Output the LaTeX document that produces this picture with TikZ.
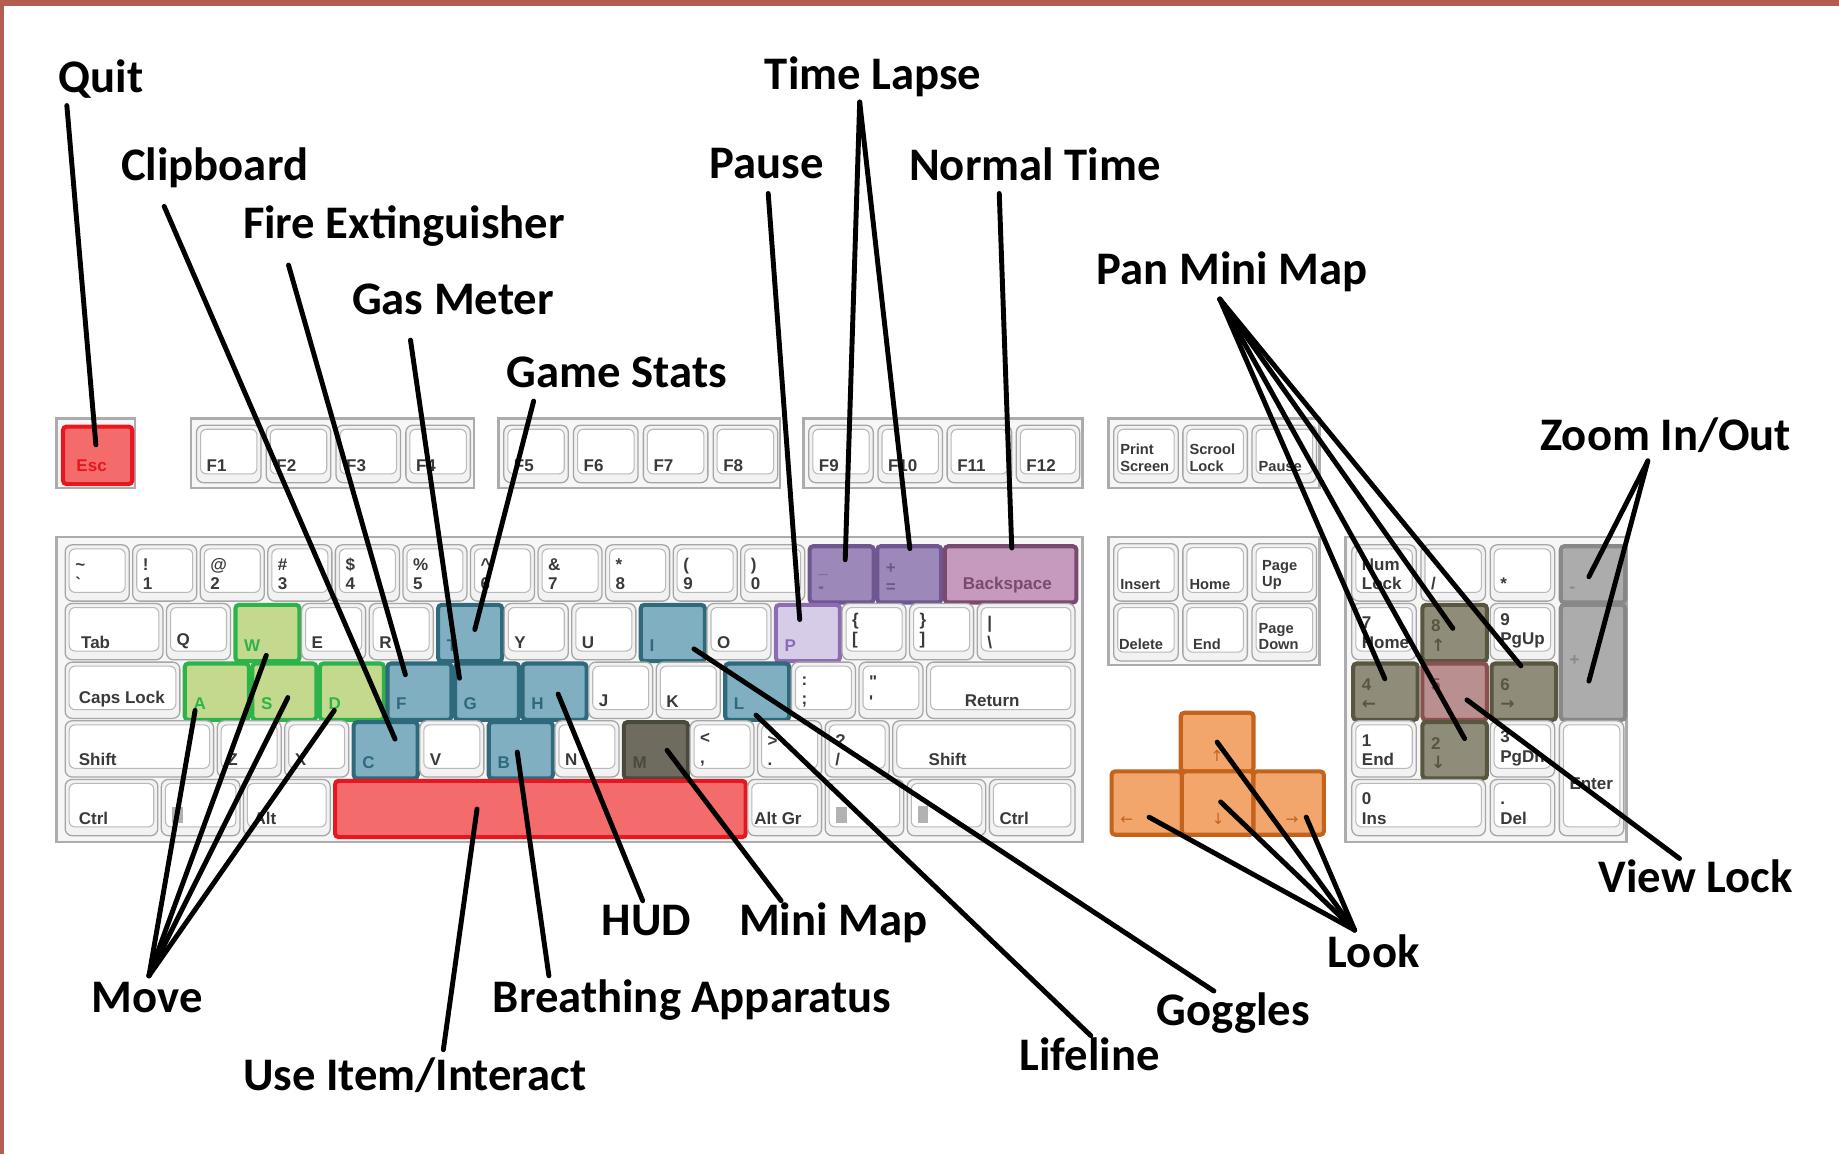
\documentclass[tikz,border=0pt]{standalone}
\usepackage{fontspec}
\setmainfont{Carlito}
\newfontfamily\kfont{Liberation Sans}
\newfontfamily\afont{DejaVu Sans}
\usetikzlibrary{calc}
\definecolor{frameC}{HTML}{B35E50}
\definecolor{redF}{HTML}{F46B6B}\definecolor{redB}{HTML}{E8161E}
\definecolor{grnF}{HTML}{C3DA8E}\definecolor{grnB}{HTML}{2DB34A}
\definecolor{tlF}{HTML}{7FAFC1}\definecolor{tlB}{HTML}{2F6A7C}
\definecolor{puF}{HTML}{9D89B9}\definecolor{puB}{HTML}{6E5690}
\definecolor{lvF}{HTML}{D7CCE7}\definecolor{lvB}{HTML}{8D6CB2}
\definecolor{bsF}{HTML}{C69ABE}\definecolor{bsB}{HTML}{7A4A6E}
\definecolor{mF}{HTML}{6F6B5E}\definecolor{mB}{HTML}{4A493D}
\definecolor{olF}{HTML}{8F8C79}\definecolor{olB}{HTML}{59563F}
\definecolor{pkF}{HTML}{BA8F8F}\definecolor{pkB}{HTML}{8A4F4F}
\definecolor{gyF}{HTML}{ACACAC}\definecolor{gyB}{HTML}{888888}
\definecolor{orF}{HTML}{F3A66C}\definecolor{orB}{HTML}{C4631B}
\definecolor{ktC}{HTML}{3A3A3A}
\tikzset{
  conn/.style={line width=4.2pt, black, line cap=round},
  lbl/.style={font=\bfseries\fontsize{39.8}{42}\selectfont, inner sep=0pt, anchor=base west},
  kframe/.style={draw=gray!65, line width=2.2pt, fill=gray!7},
  keyb/.style={draw=gray!70, line width=1.1pt, rounded corners=6pt, fill=gray!10, inner sep=0pt},
  face/.style={draw=gray!55, line width=0.9pt, rounded corners=5pt, fill=white},
  ktxt/.style={font=\kfont\bfseries\fontsize{14.5}{16.5}\selectfont, text=ktC, inner sep=0pt, align=left, anchor=south west},
  small/.style={font=\kfont\bfseries\fontsize{12.5}{14}\selectfont},
  arr/.style={font=\afont\fontsize{13}{13}\selectfont},
  ck/.style 2 args={draw=#2, fill=#1, line width=3.5pt, rounded corners=3pt, inner sep=0pt},
}
% white key: name,x,y,w,h,textstyle,text
\newcommand\kw[7]{%
  \node[keyb,minimum width=#4pt,minimum height=#5pt,anchor=north west] (#1) at (#2,#3) {};
  \draw[face] ($(#1.north west)+(4,4)$) rectangle ($(#1.south east)+(-4,-8)$);
  \node[ktxt,#6] at ($(#1.south west)+(9,-10)$) {#7};}
% coloured key: name,x,y,w,h,fill,border,textstyle,text
\newcommand\kc[9]{%
  \node[ck={#6}{#7},minimum width=#4pt,minimum height=#5pt,anchor=north west] (#1) at (#2,#3) {};
  \node[ktxt,text=#7,#8] at ($(#1.south west)+(9,-10)$) {#9};}
\begin{document}
\begin{tikzpicture}[x=1pt,y=-1pt]
\useasboundingbox (0,0) rectangle (1568,984);
\fill[white] (0,0) rectangle (1568,984);
\fill[frameC] (0,0) rectangle (1568,5);
\fill[frameC] (0,0) rectangle (3.5,984);
% frames
\draw[kframe] (48,357) rectangle (115,416);
\draw[kframe] (163,357) rectangle (404,416);
\draw[kframe] (425,357) rectangle (665,416);
\draw[kframe] (685,357) rectangle (923,416);
\draw[kframe] (945,357) rectangle (1125,416);
\draw[kframe] (48,458) rectangle (923,718);
\draw[kframe] (945,458) rectangle (1125,567);
\draw[kframe] (1147,458) rectangle (1387,718);
% function row
\kc{kEsc}{52}{362}{59}{49}{redF}{redB}{xshift=4pt,yshift=2pt}{Esc}
\kw{kFa}{167}{362}{55}{49}{}{F1}
\kw{kFb}{226.5}{362}{55}{49}{}{F2}
\kw{kFc}{286}{362}{55}{49}{}{F3}
\kw{kFd}{345.5}{362}{55}{49}{}{F4}
\kw{kFe}{429}{362}{55}{49}{}{F5}
\kw{kFf}{488.5}{362}{55}{49}{}{F6}
\kw{kFg}{548}{362}{55}{49}{}{F7}
\kw{kFh}{607.5}{362}{55}{49}{}{F8}
\kw{kFi}{689}{362}{55}{49}{}{F9}
\kw{kFj}{748}{362}{55}{49}{}{F10}
\kw{kFk}{807}{362}{55}{49}{}{F11}
\kw{kFl}{866}{362}{54}{49}{}{F12}
\kw{kPrt}{949}{362}{55}{49}{small,xshift=-3pt}{Print\\Screen}
\kw{kScr}{1008}{362}{55}{49}{small,xshift=-3pt}{Scrool\\Lock}
\kw{kPau}{1067}{362}{55}{49}{small,xshift=-3pt}{Pause}
% number row
\kw{kGrave}{55}{464}{54.6}{48}{}{\textasciitilde\\\relax`}
\kw{kOne}{112.6}{464}{54.6}{48}{}{!\\1}
\kw{kTwo}{170.2}{464}{54.6}{48}{}{@\\2}
\kw{kThree}{227.8}{464}{54.6}{48}{}{\#\\3}
\kw{kFour}{285.4}{464}{54.6}{48}{}{\$\\4}
\kw{kFive}{343}{464}{54.6}{48}{}{\%\\5}
\kw{kSix}{400.6}{464}{54.6}{48}{}{\textasciicircum\\6}
\kw{kSeven}{458.2}{464}{54.6}{48}{}{\&\\7}
\kw{kEight}{515.8}{464}{54.6}{48}{}{*\\8}
\kw{kNine}{573.4}{464}{54.6}{48}{}{(\\9}
\kw{kZero}{631}{464}{54.6}{48}{}{)\\0}
\kc{kMinus}{688.6}{464}{54.6}{48}{puF}{puB}{}{\_\\-}
\kc{kEq}{746.2}{464}{54.6}{48}{puF}{puB}{}{+\\=}
\kc{kBksp}{803.8}{464}{112.2}{48}{bsF}{bsB}{xshift=8pt}{Backspace}
% tab row
\kw{kTab}{55}{514}{83.4}{48}{xshift=5pt}{Tab}
\kw{kQ}{141.4}{514}{54.6}{48}{}{Q}
\kc{kW}{199}{514}{54.6}{48}{grnF}{grnB}{}{W}
\kw{kE}{256.6}{514}{54.6}{48}{}{E}
\kw{kR}{314.2}{514}{54.6}{48}{}{R}
\kc{kT}{371.8}{514}{54.6}{48}{tlF}{tlB}{}{T}
\kw{kY}{429.4}{514}{54.6}{48}{}{Y}
\kw{kU}{487}{514}{54.6}{48}{}{U}
\kc{kI}{544.6}{514}{54.6}{48}{tlF}{tlB}{}{I}
\kw{kO}{602.2}{514}{54.6}{48}{}{O}
\kc{kP}{659.8}{514}{54.6}{48}{lvF}{lvB}{}{P}
\kw{kLBr}{717.4}{514}{54.6}{48}{}{\{\\\relax[}
\kw{kRBr}{775}{514}{54.6}{48}{}{\}\\\relax]}
\kw{kBsl}{832.6}{514}{83.4}{48}{}{\textbar\\\textbackslash}
% caps row
\kw{kCaps}{55}{564}{97.8}{48}{xshift=3pt}{Caps Lock}
\kc{kA}{155.8}{564}{54.6}{48}{grnF}{grnB}{}{A}
\kc{kS}{213.4}{564}{54.6}{48}{grnF}{grnB}{}{S}
\kc{kD}{271}{564}{54.6}{48}{grnF}{grnB}{}{D}
\kc{kF}{328.6}{564}{54.6}{48}{tlF}{tlB}{}{F}
\kc{kG}{386.2}{564}{54.6}{48}{tlF}{tlB}{}{G}
\kc{kH}{443.8}{564}{54.6}{48}{tlF}{tlB}{}{H}
\kw{kJ}{501.4}{564}{54.6}{48}{}{J}
\kw{kK}{559}{564}{54.6}{48}{}{K}
\kc{kL}{616.6}{564}{54.6}{48}{tlF}{tlB}{}{L}
\kw{kSemi}{674.2}{564}{54.6}{48}{}{:\\;}
\kw{kQuote}{731.8}{564}{54.6}{48}{}{"\\'}
\kw{kRet}{789.4}{564}{126.6}{48}{xshift=24pt}{Return}
% shift row
\kw{kLShift}{55}{614}{126.6}{48}{xshift=3pt}{Shift}
\kw{kZ}{184.6}{614}{54.6}{48}{}{Z}
\kw{kX}{242.2}{614}{54.6}{48}{}{X}
\kc{kC}{299.8}{614}{54.6}{48}{tlF}{tlB}{}{C}
\kw{kV}{357.4}{614}{54.6}{48}{}{V}
\kc{kB}{415}{614}{54.6}{48}{tlF}{tlB}{}{B}
\kw{kN}{472.6}{614}{54.6}{48}{}{N}
\kc{kM}{530.2}{614}{54.6}{48}{mF}{mB}{}{M}
\kw{kComma}{587.8}{614}{54.6}{48}{}{<\\,}
\kw{kDot}{645.4}{614}{54.6}{48}{}{>\\.}
\kw{kSlash}{703}{614}{54.6}{48}{}{?\\/}
\kw{kRShift}{760.6}{614}{155.4}{48}{xshift=22pt}{Shift}
% bottom row
\kw{kLCtrl}{55}{664}{79}{48}{xshift=3pt}{Ctrl}
\kw{kLWin}{137}{664}{67}{48}{}{}
\kw{kLAlt}{207}{664}{74}{48}{}{Alt}
\kc{kSpace}{284}{664}{350}{48}{redF}{redB}{}{}
\kw{kAltGr}{637}{664}{63}{48}{xshift=-3pt}{Alt Gr}
\kw{kRWin}{703}{664}{67}{48}{}{}
\kw{kMenu}{773}{664}{67}{48}{}{}
\kw{kRCtrl}{843}{664}{73}{48}{}{Ctrl}
\fill[gray!60] ($(kLWin.south west)+(10,-11)$) rectangle +(9,-14);
\fill[gray!60] ($(kRWin.south west)+(10,-11)$) rectangle +(9,-14);
\fill[gray!60] ($(kMenu.south west)+(10,-11)$) rectangle +(8,-15);
% navigation block
\kw{kIns}{949}{463}{55}{49}{small,xshift=-3pt}{Insert}
\kw{kHome}{1008}{463}{55}{49}{small,xshift=-3pt}{Home}
\kw{kPgUp}{1067}{463}{55}{49}{small}{Page\\Up}
\kw{kDel}{949}{514}{55}{49}{small,xshift=-4pt}{Delete}
\kw{kEnd}{1008}{514}{55}{49}{small}{End}
\kw{kPgDn}{1067}{514}{55}{49}{small,xshift=-3pt}{Page\\Down}
% arrow keys
\kc{kUp}{1005}{606}{62}{50}{orF}{orB}{arr,xshift=18pt}{↑}
\kc{kLeft}{946}{656}{60}{54}{orF}{orB}{arr}{←}
\kc{kDown}{1006}{656}{61}{54}{orF}{orB}{arr,xshift=18pt}{↓}
\kc{kRight}{1067}{656}{60}{54}{orF}{orB}{arr,xshift=20pt}{→}
% numeric keypad
\kw{kNum}{1152}{464}{55}{48}{}{Num\\Lock}
\kw{kNDiv}{1211}{464}{55}{48}{}{/}
\kw{kNMul}{1270}{464}{55}{48}{}{*}
\kc{kNMin}{1329}{464}{55}{48}{gyF}{gyB}{}{-}
\kw{kN7}{1152}{514}{55}{48}{}{7\\Home}
\kc{kN8}{1211}{514}{55}{48}{olF}{olB}{}{8\\{\afont ↑}}
\kw{kN9}{1270}{514}{55}{48}{}{9\\PgUp}
\kc{kNPlus}{1329}{514}{55}{98}{gyF}{gyB}{yshift=38pt}{+}
\kc{kN4}{1152}{564}{55}{48}{olF}{olB}{}{4\\{\afont ←}}
\kc{kN5}{1211}{564}{55}{48}{pkF}{pkB}{yshift=16pt}{5}
\kc{kN6}{1270}{564}{55}{48}{olF}{olB}{}{6\\{\afont →}}
\kw{kN1}{1152}{614}{55}{48}{}{1\\End}
\kc{kN2}{1211}{614}{55}{48}{olF}{olB}{}{2\\{\afont ↓}}
\kw{kN3}{1270}{614}{55}{48}{}{3\\PgDn}
\kw{kNEnt}{1329}{614}{55}{98}{yshift=30pt}{Enter}
\kw{kN0}{1152}{664}{114}{48}{}{0\\Ins}
\kw{kNDel}{1270}{664}{55}{48}{}{.\\Del}
% labels
\node[lbl] (lQuit) at (50,79) {Quit};
\node[lbl] (lClip) at (103,154) {Clipboard};
\node[lbl] (lFire) at (207,203) {Fire Extinguisher};
\node[lbl] (lGas) at (300,268) {Gas Meter};
\node[lbl] (lStats) at (432,330) {Game Stats};
\node[lbl] (lTime) at (652,76) {Time Lapse};
\node[lbl] (lPause) at (605,152) {Pause};
\node[lbl] (lNormal) at (775,154) {Normal Time};
\node[lbl] (lPan) at (935,243) {Pan Mini Map};
\node[lbl] (lZoom) at (1313,384) {Zoom In/Out};
\node[lbl] (lView) at (1363,761) {View Lock};
\node[lbl] (lLook) at (1132,825) {Look};
\node[lbl] (lGog) at (986,874) {Goggles};
\node[lbl] (lLife) at (869,913) {Lifeline};
\node[lbl] (lMini) at (630,798) {Mini Map};
\node[lbl] (lHUD) at (513,798) {HUD};
\node[lbl] (lBreath) at (420,863) {Breathing Apparatus};
\node[lbl] (lUse) at (207,930) {Use Item/Interact};
\node[lbl] (lMove) at (78,863) {Move};
% connectors
\draw[conn] ($(lQuit.base west)+(7,11)$) -- ($(kEsc.center)+(-1.5,-9)$);
\draw[conn] ($(lClip.base west)+(37,22)$) -- ($(kC.center)+(8,-9.5)$);
\draw[conn] ($(lFire.base west)+(39,23)$) -- ($(kF.center)+(-12,-14.5)$);
\draw[conn] ($(lGas.base west)+(50,22)$) -- ($(kG.center)+(-23.5,-11.5)$);
\draw[conn] ($(lStats.base west)+(23,12)$) -- ($(kT.center)+(4,-3)$);
\draw[conn] ($(lTime.base west)+(81,11)$) -- ($(kMinus.center)+(3,-12.5)$);
\draw[conn] ($(lTime.base west)+(81,11)$) -- ($(kEq.center)+(0.5,-22)$);
\draw[conn] ($(lPause.base west)+(50,13)$) -- ($(kP.center)+(-7,-11.5)$);
\draw[conn] ($(lNormal.base west)+(77,11)$) -- ($(kBksp.center)+(1,-22.5)$);
\draw[conn] ($(lPan.base west)+(105,12)$) -- ($(kN4.center)+(-0.5,-11)$);
\draw[conn] ($(lPan.base west)+(105,12)$) -- ($(kN2.center)+(8.5,-10)$);
\draw[conn] ($(lPan.base west)+(105,12)$) -- ($(kN8.center)+(-1.5,-4)$);
\draw[conn] ($(lPan.base west)+(105,12)$) -- ($(kN6.center)+(-2.5,-22)$);
\draw[conn] ($(lZoom.base west)+(92,9)$) -- ($(kNMin.center)+(-3.5,2)$);
\draw[conn] ($(lZoom.base west)+(92,9)$) -- ($(kNPlus.center)+(-3.5,16)$);
\draw[conn] ($(lView.base west)+(69,-29)$) -- ($(kN5.center)+(10.5,7)$);
\draw[conn] ($(lLook.base west)+(23,-32)$) -- ($(kLeft.center)+(2,12)$);
\draw[conn] ($(lLook.base west)+(23,-32)$) -- ($(kDown.center)+(2.5,-1)$);
\draw[conn] ($(lLook.base west)+(23,-32)$) -- (kUp.center);
\draw[conn] ($(lLook.base west)+(23,-32)$) -- ($(kRight.center)+(15,12)$);
\draw[conn] ($(lGog.base west)+(49,-29)$) -- ($(kI.center)+(18,13.5)$);
\draw[conn] ($(lLife.base west)+(61,-30)$) -- ($(kL.center)+(-1,20)$);
\draw[conn] ($(lMini.base west)+(36,-30)$) -- ($(kM.center)+(9.5,0)$);
\draw[conn] ($(lHUD.base west)+(35,-30)$) -- ($(kH.center)+(3,2)$);
\draw[conn] ($(lBreath.base west)+(48,-31)$) -- ($(kB.center)+(-3,1.5)$);
\draw[conn] ($(lUse.base west)+(171,-35)$) -- ($(kSpace.center)+(-54,0)$);
\draw[conn] ($(lMove.base west)+(49,-31)$) -- ($(kA.center)+(-18.5,16)$);
\draw[conn] ($(lMove.base west)+(49,-31)$) -- ($(kW.center)+(-1,19)$);
\draw[conn] ($(lMove.base west)+(49,-31)$) -- ($(kS.center)+(3,5)$);
\draw[conn] ($(lMove.base west)+(49,-31)$) -- ($(kD.center)+(-15,16)$);
\end{tikzpicture}
\end{document}
